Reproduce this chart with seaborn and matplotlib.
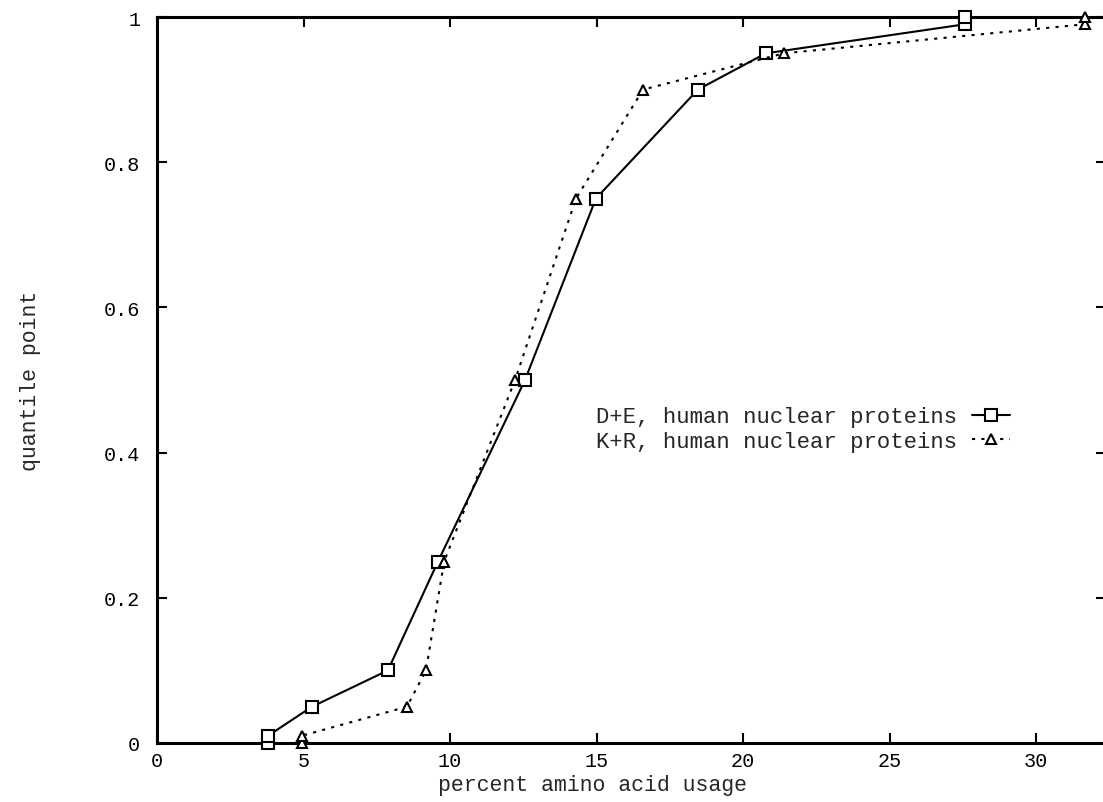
import numpy as np
import pandas as pd
import matplotlib
matplotlib.use("Agg")
import matplotlib.pyplot as plt
from matplotlib.ticker import FuncFormatter
import seaborn as sns

# quantile points (y) and percent amino acid usage (x) for the two series
quantiles = [0, 0.01, 0.05, 0.1, 0.25, 0.5, 0.75, 0.9, 0.95, 0.99, 1.0]
de_usage = [3.79, 3.79, 5.29, 7.88, 9.59, 12.56, 14.98, 18.46, 20.78, 27.58, 27.58]
kr_usage = [4.95, 4.95, 8.53, 9.18, 9.80, 12.22, 14.30, 16.59, 21.40, 31.67, 31.67]
labels = ["D+E, human nuclear proteins", "K+R, human nuclear proteins"]

df = pd.DataFrame({
    "usage": de_usage + kr_usage,
    "quantile": quantiles + quantiles,
    "series": [labels[0]] * len(de_usage) + [labels[1]] * len(kr_usage),
})

sns.set_theme(style="ticks")
plt.rcParams["font.family"] = ["Liberation Mono", "DejaVu Sans Mono"]

fig = plt.figure(figsize=(11.03, 8.03), dpi=100)
ax = fig.add_axes([157 / 1103, 59 / 803, 949 / 1103, 726 / 803])

sns.lineplot(data=df[df["series"] == labels[0]], x="usage", y="quantile",
             sort=False, estimator=None, color="black", lw=1.5,
             marker="s", markersize=9, markerfacecolor="white",
             markeredgecolor="black", markeredgewidth=1.5,
             label=labels[0], clip_on=False, zorder=3, ax=ax)
sns.lineplot(data=df[df["series"] == labels[1]], x="usage", y="quantile",
             sort=False, estimator=None, color="black", lw=1.5,
             linestyle=(0, (1.5, 3)), marker="^", markersize=7,
             markerfacecolor="white", markeredgecolor="black",
             markeredgewidth=1.5, label=labels[1], clip_on=False,
             zorder=3, ax=ax)

ax.set_xlim(0, 949 / 29.3)
ax.set_ylim(0, 1)
ax.set_xticks(np.arange(0, 31, 5))
ax.set_yticks(np.arange(0, 1.01, 0.2))
ax.yaxis.set_major_formatter(FuncFormatter(lambda v, p: "%g" % round(v, 2)))
ax.xaxis.set_major_formatter(FuncFormatter(lambda v, p: "%g" % v))
ax.tick_params(direction="in", length=7, width=1.5, labelsize=14.5,
               top=True, right=True, colors="black")
ax.tick_params(axis="x", pad=6)
ax.tick_params(axis="y", pad=12)
for s in ax.spines.values():
    s.set_linewidth(2.2)
    s.set_color("black")

ax.set_xlabel("percent amino acid usage", fontsize=15.5)
ax.set_ylabel("quantile point", fontsize=15.5)
ax.xaxis.set_label_coords(0.459, -0.043)
ax.yaxis.set_label_coords(-0.122, 0.5)

ax.legend(loc="center right", bbox_to_anchor=(0.899, 0.4325), frameon=False,
          markerfirst=False, fontsize=16, handlelength=1.7,
          handletextpad=0.7, labelspacing=0.15, borderpad=0,
          borderaxespad=0)

fig.savefig("out.png", dpi=100, facecolor="white")
